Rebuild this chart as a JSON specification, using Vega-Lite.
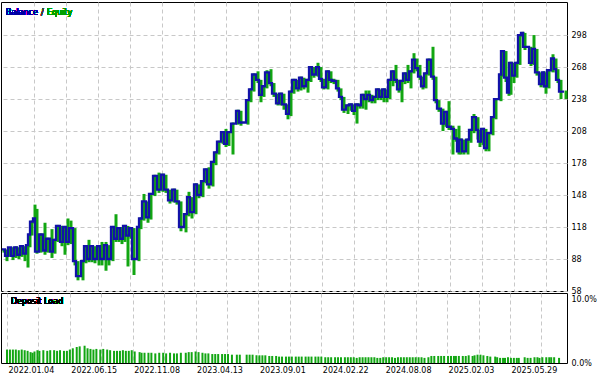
{
  "$schema": "https://vega.github.io/schema/vega-lite/v6.json",
  "padding": {"left": -4, "top": 1, "right": 0, "bottom": 0},
  "autosize": {"type": "pad"},
  "spacing": 2,
  "bounds": "flush",
  "background": "white",
  "config": {
    "view": {"stroke": "black", "strokeWidth": 1},
    "font": "DejaVu Sans",
    "axis": {"labelFont": "DejaVu Sans", "labelFontSize": 8, "labelColor": "black", "gridColor": "#c8c8c8", "gridDash": [4, 3], "gridWidth": 1, "ticks": false, "domain": false, "title": null, "labelOverlap": false, "labelBound": false, "labelFlush": false}
  },
  "data": {"values": [
    {"x":1,"b":97,"lo":94,"hi":97,"load":2.1},
    {"x":4,"b":91,"lo":86,"hi":97,"load":2.1},
    {"x":7,"b":99,"lo":90,"hi":99,"load":2.1},
    {"x":10,"b":91,"lo":87,"hi":99,"load":2.1},
    {"x":13,"b":99,"lo":89,"hi":100,"load":2.0},
    {"x":16,"b":92,"lo":88,"hi":99,"load":2.1},
    {"x":19,"b":100,"lo":90,"hi":101,"load":2.0},
    {"x":22,"b":93,"lo":86,"hi":100,"load":1.9},
    {"x":25,"b":101,"lo":80,"hi":101,"load":1.7},
    {"x":27,"b":111,"lo":99,"hi":112,"load":1.6},
    {"x":29,"b":123,"lo":110,"hi":124,"load":1.8},
    {"x":32,"b":126,"lo":121,"hi":139,"load":2.0},
    {"x":34,"b":95,"lo":93,"hi":135,"load":1.9},
    {"x":38,"b":111,"lo":94,"hi":112,"load":2.0},
    {"x":42,"b":96,"lo":92,"hi":122,"load":1.9},
    {"x":45,"b":107,"lo":94,"hi":108,"load":2.0},
    {"x":49,"b":95,"lo":89,"hi":116,"load":2.0},
    {"x":52,"b":106,"lo":93,"hi":107,"load":1.9},
    {"x":55,"b":119,"lo":104,"hi":120,"load":2.0},
    {"x":59,"b":104,"lo":100,"hi":119,"load":1.9},
    {"x":62,"b":118,"lo":92,"hi":119,"load":1.9},
    {"x":65,"b":104,"lo":101,"hi":126,"load":2.1},
    {"x":68,"b":117,"lo":102,"hi":124,"load":2.3},
    {"x":72,"b":86,"lo":82,"hi":117,"load":2.5},
    {"x":75,"b":72,"lo":68,"hi":86,"load":2.6},
    {"x":80,"b":86,"lo":68,"hi":87,"load":2.7},
    {"x":83,"b":100,"lo":84,"hi":101,"load":2.3},
    {"x":86,"b":88,"lo":85,"hi":106,"load":2.2},
    {"x":89,"b":100,"lo":85,"hi":101,"load":2.1},
    {"x":92,"b":88,"lo":84,"hi":100,"load":2.2},
    {"x":96,"b":100,"lo":82,"hi":101,"load":2.1},
    {"x":99,"b":88,"lo":82,"hi":104,"load":2.2},
    {"x":103,"b":101,"lo":77,"hi":104,"load":2.1},
    {"x":106,"b":88,"lo":82,"hi":101,"load":2.0},
    {"x":110,"b":118,"lo":86,"hi":119,"load":1.9},
    {"x":113,"b":107,"lo":104,"hi":130,"load":1.9},
    {"x":116,"b":117,"lo":104,"hi":118,"load":1.9},
    {"x":119,"b":107,"lo":102,"hi":118,"load":2.0},
    {"x":122,"b":119,"lo":104,"hi":120,"load":1.9},
    {"x":125,"b":110,"lo":81,"hi":119,"load":1.9},
    {"x":128,"b":117,"lo":107,"hi":118,"load":2.0},
    {"x":131,"b":88,"lo":73,"hi":117,"load":1.8},
    {"x":136,"b":118,"lo":86,"hi":119,"load":1.7},
    {"x":138,"b":126,"lo":116,"hi":127,"load":1.6},
    {"x":141,"b":142,"lo":124,"hi":149,"load":1.6},
    {"x":145,"b":127,"lo":122,"hi":142,"load":1.6},
    {"x":148,"b":149,"lo":125,"hi":150,"load":1.6},
    {"x":152,"b":166,"lo":147,"hi":167,"load":1.5},
    {"x":156,"b":153,"lo":150,"hi":169,"load":1.6},
    {"x":160,"b":167,"lo":151,"hi":168,"load":1.6},
    {"x":163,"b":153,"lo":150,"hi":167,"load":1.5},
    {"x":167,"b":143,"lo":140,"hi":153,"load":1.6},
    {"x":171,"b":153,"lo":141,"hi":154,"load":1.5},
    {"x":174,"b":142,"lo":139,"hi":153,"load":1.5},
    {"x":178,"b":118,"lo":114,"hi":142,"load":1.6},
    {"x":183,"b":130,"lo":113,"hi":131,"load":1.6},
    {"x":186,"b":146,"lo":128,"hi":151,"load":1.7},
    {"x":189,"b":132,"lo":126,"hi":146,"load":1.7},
    {"x":193,"b":158,"lo":130,"hi":159,"load":1.8},
    {"x":196,"b":148,"lo":145,"hi":158,"load":1.7},
    {"x":200,"b":161,"lo":146,"hi":162,"load":1.6},
    {"x":203,"b":172,"lo":159,"hi":173,"load":1.5},
    {"x":206,"b":158,"lo":154,"hi":174,"load":1.5},
    {"x":210,"b":179,"lo":156,"hi":180,"load":1.4},
    {"x":213,"b":188,"lo":176,"hi":189,"load":1.4},
    {"x":216,"b":198,"lo":186,"hi":199,"load":1.4},
    {"x":220,"b":207,"lo":196,"hi":208,"load":1.4},
    {"x":223,"b":196,"lo":193,"hi":210,"load":1.4},
    {"x":226,"b":207,"lo":194,"hi":208,"load":1.4},
    {"x":230,"b":215,"lo":186,"hi":216,"load":1.3},
    {"x":235,"b":227,"lo":214,"hi":228,"load":1.3},
    {"x":238,"b":216,"lo":213,"hi":227,"load":1.3},
    {"x":245,"b":237,"lo":214,"hi":238,"load":1.3},
    {"x":248,"b":247,"lo":235,"hi":248,"load":1.3},
    {"x":251,"b":261,"lo":245,"hi":262,"load":1.3},
    {"x":255,"b":256,"lo":253,"hi":264,"load":1.2},
    {"x":258,"b":242,"lo":235,"hi":256,"load":1.2},
    {"x":261,"b":250,"lo":240,"hi":251,"load":1.2},
    {"x":264,"b":263,"lo":248,"hi":265,"load":1.2},
    {"x":268,"b":253,"lo":250,"hi":266,"load":1.1},
    {"x":271,"b":243,"lo":240,"hi":253,"load":1.1},
    {"x":275,"b":234,"lo":232,"hi":243,"load":1.1},
    {"x":278,"b":243,"lo":232,"hi":244,"load":1.0},
    {"x":281,"b":233,"lo":228,"hi":243,"load":1.0},
    {"x":285,"b":224,"lo":219,"hi":233,"load":1.0},
    {"x":288,"b":245,"lo":222,"hi":246,"load":1.0},
    {"x":291,"b":256,"lo":243,"hi":257,"load":1.0},
    {"x":295,"b":248,"lo":245,"hi":256,"load":1.0},
    {"x":298,"b":258,"lo":246,"hi":259,"load":1.0},
    {"x":301,"b":250,"lo":247,"hi":258,"load":1.0},
    {"x":305,"b":256,"lo":244,"hi":257,"load":1.0},
    {"x":308,"b":268,"lo":254,"hi":269,"load":1.0},
    {"x":311,"b":261,"lo":258,"hi":268,"load":1.0},
    {"x":315,"b":268,"lo":259,"hi":272,"load":1.0},
    {"x":318,"b":257,"lo":254,"hi":268,"load":1.0},
    {"x":321,"b":249,"lo":247,"hi":257,"load":1.0},
    {"x":325,"b":264,"lo":247,"hi":265,"load":0.9},
    {"x":328,"b":256,"lo":253,"hi":264,"load":0.9},
    {"x":331,"b":255,"lo":252,"hi":257,"load":0.9},
    {"x":335,"b":248,"lo":245,"hi":256,"load":0.9},
    {"x":338,"b":240,"lo":237,"hi":248,"load":0.9},
    {"x":341,"b":228,"lo":225,"hi":240,"load":0.9},
    {"x":345,"b":232,"lo":224,"hi":233,"load":0.9},
    {"x":348,"b":233,"lo":227,"hi":234,"load":0.9},
    {"x":351,"b":227,"lo":223,"hi":233,"load":0.9},
    {"x":354,"b":233,"lo":215,"hi":234,"load":0.9},
    {"x":357,"b":232,"lo":229,"hi":234,"load":0.8},
    {"x":360,"b":242,"lo":229,"hi":243,"load":0.9},
    {"x":363,"b":238,"lo":228,"hi":246,"load":0.9},
    {"x":366,"b":242,"lo":235,"hi":246,"load":0.9},
    {"x":369,"b":237,"lo":234,"hi":242,"load":0.9},
    {"x":372,"b":240,"lo":234,"hi":241,"load":0.9},
    {"x":375,"b":247,"lo":237,"hi":248,"load":0.9},
    {"x":378,"b":240,"lo":237,"hi":247,"load":0.8},
    {"x":381,"b":247,"lo":235,"hi":248,"load":0.8},
    {"x":384,"b":240,"lo":235,"hi":247,"load":0.9},
    {"x":387,"b":256,"lo":238,"hi":257,"load":0.9},
    {"x":390,"b":264,"lo":250,"hi":265,"load":0.9},
    {"x":393,"b":256,"lo":253,"hi":270,"load":0.9},
    {"x":396,"b":247,"lo":244,"hi":256,"load":0.8},
    {"x":399,"b":255,"lo":235,"hi":256,"load":0.9},
    {"x":402,"b":262,"lo":252,"hi":263,"load":0.9},
    {"x":405,"b":256,"lo":253,"hi":270,"load":0.9},
    {"x":408,"b":264,"lo":248,"hi":265,"load":0.9},
    {"x":411,"b":275,"lo":262,"hi":281,"load":0.9},
    {"x":414,"b":267,"lo":264,"hi":276,"load":0.9},
    {"x":417,"b":259,"lo":256,"hi":270,"load":0.9},
    {"x":420,"b":250,"lo":247,"hi":259,"load":0.9},
    {"x":423,"b":262,"lo":248,"hi":263,"load":0.9},
    {"x":426,"b":275,"lo":260,"hi":276,"load":0.8},
    {"x":430,"b":259,"lo":256,"hi":287,"load":0.9},
    {"x":433,"b":237,"lo":234,"hi":259,"load":1.1},
    {"x":436,"b":229,"lo":226,"hi":237,"load":1.1},
    {"x":440,"b":215,"lo":208,"hi":229,"load":1.1},
    {"x":443,"b":226,"lo":212,"hi":227,"load":1.1},
    {"x":446,"b":212,"lo":209,"hi":236,"load":1.1},
    {"x":450,"b":210,"lo":186,"hi":213,"load":1.1},
    {"x":453,"b":201,"lo":198,"hi":210,"load":1.1},
    {"x":456,"b":189,"lo":186,"hi":213,"load":1.1},
    {"x":458,"b":200,"lo":186,"hi":201,"load":1.1},
    {"x":461,"b":189,"lo":186,"hi":200,"load":1.1},
    {"x":465,"b":200,"lo":186,"hi":201,"load":1.1},
    {"x":468,"b":209,"lo":197,"hi":210,"load":1.1},
    {"x":471,"b":221,"lo":206,"hi":224,"load":1.2},
    {"x":475,"b":209,"lo":200,"hi":221,"load":1.1},
    {"x":477,"b":198,"lo":193,"hi":209,"load":1.2},
    {"x":480,"b":210,"lo":195,"hi":211,"load":1.3},
    {"x":483,"b":192,"lo":189,"hi":210,"load":1.3},
    {"x":486,"b":206,"lo":189,"hi":207,"load":1.2},
    {"x":490,"b":221,"lo":204,"hi":222,"load":1.1},
    {"x":493,"b":238,"lo":219,"hi":239,"load":1.0},
    {"x":498,"b":261,"lo":236,"hi":262,"load":1.0},
    {"x":500,"b":283,"lo":259,"hi":284,"load":0.9},
    {"x":503,"b":258,"lo":254,"hi":283,"load":0.8},
    {"x":506,"b":244,"lo":241,"hi":258,"load":0.8},
    {"x":508,"b":272,"lo":242,"hi":273,"load":0.8},
    {"x":511,"b":260,"lo":253,"hi":272,"load":0.9},
    {"x":514,"b":272,"lo":258,"hi":273,"load":0.8},
    {"x":517,"b":298,"lo":270,"hi":299,"load":0.8},
    {"x":520,"b":300,"lo":296,"hi":301,"load":0.8},
    {"x":522,"b":287,"lo":284,"hi":300,"load":0.8},
    {"x":528,"b":272,"lo":269,"hi":287,"load":0.9},
    {"x":531,"b":285,"lo":270,"hi":298,"load":0.8},
    {"x":534,"b":263,"lo":260,"hi":285,"load":0.8},
    {"x":538,"b":252,"lo":249,"hi":263,"load":0.9},
    {"x":541,"b":263,"lo":249,"hi":264,"load":0.9},
    {"x":543,"b":250,"lo":243,"hi":263,"load":0.8},
    {"x":546,"b":265,"lo":248,"hi":266,"load":0.9},
    {"x":550,"b":276,"lo":263,"hi":280,"load":0.9},
    {"x":553,"b":266,"lo":263,"hi":276,"load":0.9},
    {"x":555,"b":256,"lo":253,"hi":266,"load":0.9},
    {"x":558,"b":245,"lo":238,"hi":256,"load":0.9},
    {"x":563,"b":245,"lo":238,"hi":246,"load":0.8}
  ]},
  "vconcat": [
    {
      "width": 566,
      "height": 289,
      "resolve": {"axis": {"x": "independent", "y": "independent"}},
      "layer": [
        {
          "mark": {"type": "rule", "color": "#12a612", "strokeWidth": 3, "xOffset": 2},
          "encoding": {
            "x": {"field": "x", "type": "quantitative", "scale": {"domain": [0, 566], "nice": false, "zero": false},
                  "axis": {"values": [33,65,97,129,161,193,225,257,289,321,353,385,417,449,481,513,545], "labels": false, "grid": true, "labelOverlap": false, "minExtent": 0, "maxExtent": 0}},
            "y": {"field": "lo", "type": "quantitative", "scale": {"domain": [58, 329], "nice": false, "zero": false},
                  "axis": {"orient": "right", "values": [58,88,118,148,178,208,238,268,298], "grid": true, "labelOverlap": false, "labelPadding": 4}},
            "y2": {"field": "hi"}
          }
        },
        {
          "mark": {"type": "line", "interpolate": "step-after", "color": "#1212a8", "strokeWidth": 2.3},
          "encoding": {
            "x": {"field": "x", "type": "quantitative", "axis": null},
            "y": {"field": "b", "type": "quantitative", "axis": null}
          }
        },
        {
          "mark": {"type": "text", "align": "left", "baseline": "middle", "fontSize": 8, "color": "#0000a0", "text": "Balance"},
          "encoding": {"x": {"datum": 5, "type": "quantitative", "axis": null}, "y": {"datum": 318.5, "type": "quantitative", "axis": null}}
        },
        {
          "mark": {"type": "text", "align": "left", "baseline": "middle", "fontSize": 8, "color": "#404040", "text": "/", "dx": 35},
          "encoding": {"x": {"datum": 5, "type": "quantitative", "axis": null}, "y": {"datum": 318.5, "type": "quantitative", "axis": null}}
        },
        {
          "mark": {"type": "text", "align": "left", "baseline": "middle", "fontSize": 8, "color": "#00a000", "text": "Equity", "dx": 41},
          "encoding": {"x": {"datum": 5, "type": "quantitative", "axis": null}, "y": {"datum": 318.5, "type": "quantitative", "axis": null}}
        }
      ]
    },
    {
      "width": 566,
      "height": 70,
      "resolve": {"axis": {"x": "independent", "y": "independent"}},
      "layer": [
        {
          "mark": {"type": "bar", "color": "#12a612", "width": 2},
          "encoding": {
            "x": {"field": "x", "type": "quantitative", "scale": {"domain": [0, 566], "nice": false, "zero": false},
                  "axis": {"values": [1,33,65,97,129,161,193,225,257,289,321,353,385,417,449,481,513,545], "grid": true, "labelOverlap": false, "labelAlign": "left", "labelBaseline": "top", "labelPadding": 3, "labelOffset": 1,
                           "labelExpr": "['2022.01.04','','2022.06.15','','2022.11.08','','2023.04.13','','2023.09.01','','2024.02.22','','2024.08.08','','2025.02.03','','2025.05.29',''][round((datum.value-1)/32)]"}},
            "y": {"field": "load", "type": "quantitative", "scale": {"domain": [0, 10.94], "nice": false, "zero": true},
                  "axis": {"orient": "right", "values": [0, 10], "grid": false, "labelOverlap": false, "labelPadding": 4, "labelExpr": "format(datum.value, '.1f') + '%'"}}
          }
        },
        {
          "mark": {"type": "text", "align": "left", "baseline": "middle", "fontSize": 8, "color": "black", "text": "Deposit Load"},
          "encoding": {"x": {"datum": 5, "type": "quantitative", "axis": null}, "y": {"datum": 9.5, "type": "quantitative", "axis": null}}
        }
      ]
    }
  ]
}
